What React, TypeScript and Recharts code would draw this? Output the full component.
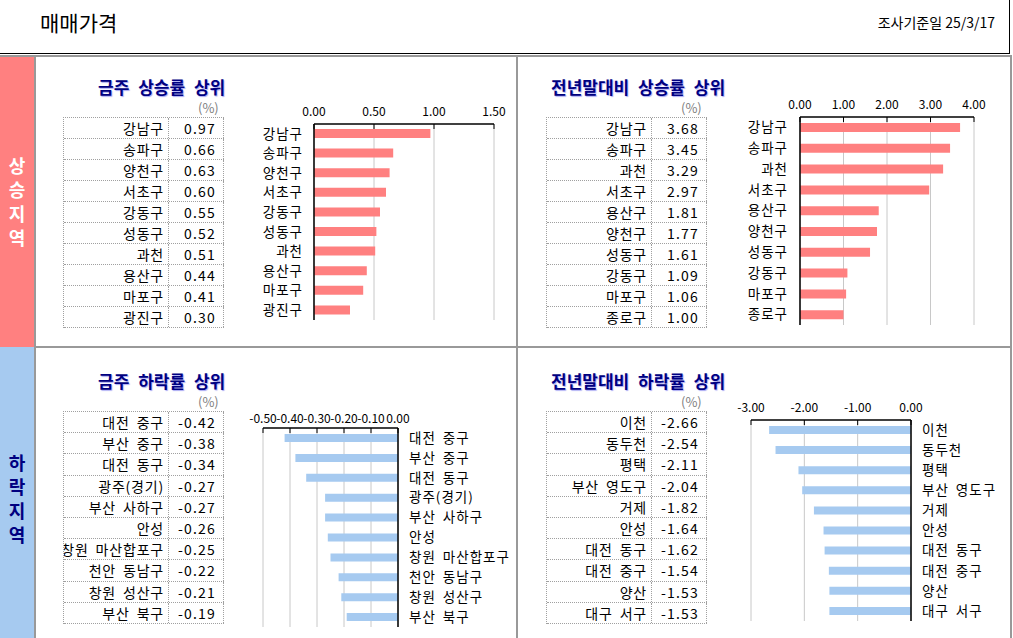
import React from "react";
import { BarChart, Bar, XAxis, YAxis, CartesianGrid } from "recharts";

// 금주 상승률 상위
const weekUpNames = ["강남구", "송파구", "양천구", "서초구", "강동구", "성동구", "과천", "용산구", "마포구", "광진구"];
const weekUpValues = [0.97, 0.66, 0.63, 0.6, 0.55, 0.52, 0.51, 0.44, 0.41, 0.3];
const weekUpTicks = [0, 0.5, 1, 1.5];

// 전년말대비 상승률 상위
const ytdUpNames = ["강남구", "송파구", "과천", "서초구", "용산구", "양천구", "성동구", "강동구", "마포구", "종로구"];
const ytdUpValues = [3.68, 3.45, 3.29, 2.97, 1.81, 1.77, 1.61, 1.09, 1.06, 1.0];
const ytdUpTicks = [0, 1, 2, 3, 4];

// 금주 하락률 상위
const weekDownNames = ["대전 중구", "부산 중구", "대전 동구", "광주(경기)", "부산 사하구", "안성", "창원 마산합포구", "천안 동남구", "창원 성산구", "부산 북구"];
const weekDownValues = [-0.42, -0.38, -0.34, -0.27, -0.27, -0.26, -0.25, -0.22, -0.21, -0.19];
const weekDownTicks = [-0.5, -0.4, -0.3, -0.2, -0.1, 0];

// 전년말대비 하락률 상위
const ytdDownNames = ["이천", "동두천", "평택", "부산 영도구", "거제", "안성", "대전 동구", "대전 중구", "양산", "대구 서구"];
const ytdDownValues = [-2.66, -2.54, -2.11, -2.04, -1.82, -1.64, -1.62, -1.54, -1.53, -1.53];
const ytdDownTicks = [-3, -2, -1, 0];

const FONT = '"Noto Sans CJK KR", "Noto Sans", sans-serif';
const RED = "#FF8080";
const BLUE = "#A6CAF0";
const GREY = "#999999";
const NAVY = "#000080";
const DOT = "1px dotted #a0a0a0";

const abs = (left: number, top: number, extra: React.CSSProperties = {}): React.CSSProperties => ({
  position: "absolute",
  left,
  top,
  ...extra,
});

function Title({ left, top, width, text }: { left: number; top: number; width?: number; text: string }) {
  return (
    <div
      style={abs(left, top - 12, {
        width: width ?? 220,
        height: 24,
        lineHeight: "24px",
        overflow: "hidden",
        whiteSpace: "nowrap",
        fontSize: 17,
        fontWeight: 700,
        color: NAVY,
        wordSpacing: 5,
        textShadow: "1px 1px 1px rgba(0,0,220,0.35)",
      })}
    >
      {text}
    </div>
  );
}

function Unit({ left, top }: { left: number; top: number }) {
  return (
    <div style={abs(left, top - 8, { height: 16, lineHeight: "16px", fontSize: 13, color: "#808080" })}>(%)</div>
  );
}

function RankTable({ left, top, names, values, rowH }: { left: number; top: number; names: string[]; values: number[]; rowH: number }) {
  return (
    <div style={abs(left, top, { width: 160, borderTop: DOT, borderLeft: DOT, fontSize: 14, lineHeight: 1 })}>
      {names.map((n, i) => (
        <div key={n + i} style={{ display: "flex", height: rowH, boxSizing: "border-box", borderBottom: DOT }}>
          <div
            style={{
              width: 105,
              boxSizing: "border-box",
              borderRight: DOT,
              display: "flex",
              justifyContent: "flex-end",
              alignItems: "center",
              overflow: "hidden",
              paddingRight: 4,
              whiteSpace: "nowrap",
              wordSpacing: 3,
              letterSpacing: 0.8,
            }}
          >
            <span style={{ flexShrink: 0 }}>{n}</span>
          </div>
          <div
            style={{
              flex: 1,
              boxSizing: "border-box",
              borderRight: DOT,
              display: "flex",
              justifyContent: "flex-end",
              alignItems: "center",
              paddingRight: 7,
              letterSpacing: 1.2,
            }}
          >
            {values[i].toFixed(2)}
          </div>
        </div>
      ))}
    </div>
  );
}

interface RankChartProps {
  left: number;
  top: number;
  width: number;
  height: number;
  names: string[];
  values: number[];
  ticks: number[];
  color: string;
  barSize: number;
  side: "left" | "right";
  marginLeft: number;
  marginRight: number;
  axisH: number;
  labelW: number;
  labelGap: number;
  tickMargin: number;
}

function RankChart(p: RankChartProps) {
  const data = p.names.map((name, i) => ({ name, value: p.values[i] }));
  const domain = [p.ticks[0], p.ticks[p.ticks.length - 1]];
  return (
    <div style={abs(p.left, p.top, { wordSpacing: 3 })}>
      <BarChart
        width={p.width}
        height={p.height}
        layout="vertical"
        data={data}
        margin={{ top: 0, right: p.marginRight, bottom: 5, left: p.marginLeft }}
      >
        <CartesianGrid horizontal={false} stroke="#c8c8c8" />
        <XAxis
          type="number"
          dataKey="value"
          orientation="top"
          domain={domain}
          ticks={p.ticks}
          interval={0}
          height={p.axisH}
          tickFormatter={(v: number) => v.toFixed(2)}
          tick={{ fill: "#000", fontSize: 12 }}
          tickSize={-5}
          tickMargin={p.tickMargin}
          axisLine={{ stroke: "#000", strokeWidth: 1.5 }}
          tickLine={{ stroke: "#000" }}
        />
        <XAxis
          xAxisId="frame"
          type="number"
          dataKey="value"
          orientation="bottom"
          domain={domain}
          height={0}
          tick={false}
          tickLine={false}
          axisLine={{ stroke: GREY, strokeWidth: 2 }}
        />
        <YAxis
          type="category"
          dataKey="name"
          orientation={p.side}
          width={p.labelW}
          interval={0}
          tickSize={0}
          tickMargin={p.labelGap}
          tick={{ fill: "#000", fontSize: 13.5, letterSpacing: 1 }}
          axisLine={{ stroke: "#000", strokeWidth: 1.5 }}
          tickLine={false}
        />
        <YAxis
          yAxisId="frame"
          type="category"
          dataKey="name"
          orientation={p.side === "left" ? "right" : "left"}
          width={0}
          tick={false}
          tickLine={false}
          axisLine={{ stroke: GREY, strokeWidth: 2 }}
        />
        <Bar dataKey="value" fill={p.color} barSize={p.barSize} isAnimationActive={false} />
      </BarChart>
    </div>
  );
}

function SideLabel({ top, text, color }: { top: number; text: string; color: string }) {
  return (
    <div
      style={abs(0, top, {
        width: 34,
        textAlign: "center",
        fontSize: 18,
        fontWeight: 700,
        lineHeight: "24px",
        color,
      })}
    >
      {text.split("").map((c, i) => (
        <div key={i}>{c}</div>
      ))}
    </div>
  );
}

export default function App() {
  return (
    <div
      style={{
        position: "absolute",
        left: 0,
        top: 0,
        width: 1013,
        height: 638,
        overflow: "hidden",
        background: "#fff",
        fontFamily: FONT,
        color: "#000",
      }}
    >
      {/* header */}
      <div style={abs(0, 0, { width: 1009, height: 53, borderRight: "1px solid #000", borderBottom: "1px solid #000" })} />
      <div style={abs(40, 9, { fontSize: 21, lineHeight: "26px" })}>매매가격</div>
      <div style={abs(795, 12, { width: 200, textAlign: "right", fontSize: 14, lineHeight: "20px" })}>조사기준일 25/3/17</div>

      {/* side bands */}
      <div style={abs(0, 57, { width: 34, height: 290, background: RED })} />
      <div style={abs(0, 347, { width: 34, height: 291, background: BLUE })} />
      <SideLabel top={153} text="상승지역" color="#fff" />
      <SideLabel top={450} text="하락지역" color={NAVY} />

      {/* grey frame */}
      <div style={abs(0, 55, { width: 1012, height: 2, background: GREY })} />
      <div style={abs(34, 55, { width: 2, height: 583, background: GREY })} />
      <div style={abs(516, 55, { width: 2, height: 583, background: GREY })} />
      <div style={abs(1010, 55, { width: 2, height: 583, background: GREY })} />
      <div style={abs(34, 346, { width: 978, height: 2, background: GREY })} />

      {/* top-left */}
      <Title left={98} top={87} text="금주 상승률 상위" />
      <Unit left={198} top={108} />
      <RankTable left={63} top={117} names={weekUpNames} values={weekUpValues} rowH={21} />
      <RankChart
        left={240}
        top={95}
        width={270}
        height={230}
        names={weekUpNames}
        values={weekUpValues}
        ticks={weekUpTicks}
        color={RED}
        barSize={9}
        side="left"
        marginLeft={0}
        marginRight={16}
        axisH={29}
        labelW={74}
        labelGap={11}
        tickMargin={13}
      />

      {/* top-right */}
      <Title left={551} top={87} width={176} text="전년말대비 상승률 상위" />
      <Unit left={681} top={108} />
      <RankTable left={546} top={117} names={ytdUpNames} values={ytdUpValues} rowH={21} />
      <RankChart
        left={720}
        top={90}
        width={270}
        height={240}
        names={ytdUpNames}
        values={ytdUpValues}
        ticks={ytdUpTicks}
        color={RED}
        barSize={9}
        side="left"
        marginLeft={0}
        marginRight={16}
        axisH={27}
        labelW={80}
        labelGap={12}
        tickMargin={13}
      />

      {/* bottom-left */}
      <Title left={98} top={381} text="금주 하락률 상위" />
      <Unit left={198} top={402} />
      <RankTable left={63} top={411} names={weekDownNames} values={weekDownValues} rowH={21.2} />
      <RankChart
        left={240}
        top={400}
        width={280}
        height={232}
        names={weekDownNames}
        values={weekDownValues}
        ticks={weekDownTicks}
        color={BLUE}
        barSize={8}
        side="right"
        marginLeft={23}
        marginRight={0}
        axisH={28}
        labelW={122}
        labelGap={11}
        tickMargin={10}
      />

      {/* bottom-right */}
      <Title left={551} top={381} width={178} text="전년말대비 하락률 상위" />
      <Unit left={681} top={402} />
      <RankTable left={546} top={411} names={ytdDownNames} values={ytdDownValues} rowH={21.2} />
      <RankChart
        left={700}
        top={390}
        width={310}
        height={236}
        names={ytdDownNames}
        values={ytdDownValues}
        ticks={ytdDownTicks}
        color={BLUE}
        barSize={8}
        side="right"
        marginLeft={51}
        marginRight={0}
        axisH={30}
        labelW={99}
        labelGap={11}
        tickMargin={13}
      />
    </div>
  );
}
